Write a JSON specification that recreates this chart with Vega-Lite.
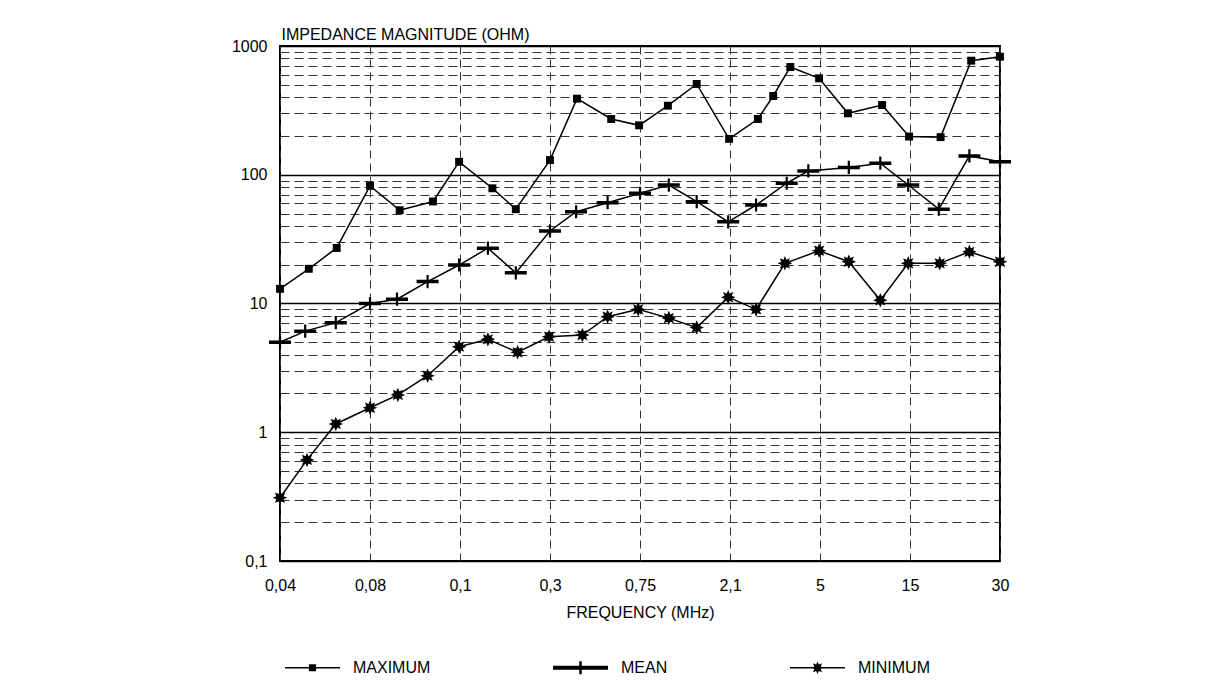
{
  "$schema": "https://vega.github.io/schema/vega-lite/v6.json",
  "width": 720,
  "height": 515,
  "autosize": "none",
  "padding": {"left": 280, "top": 46, "right": 227, "bottom": 125},
  "background": "white",
  "config": {
    "font": "Liberation Sans",
    "view": {"stroke": "black", "strokeWidth": 2}
  },
  "data": {
    "values": [
      {"series": "MAXIMUM", "pos": 0, "impedance": 13},
      {"series": "MAXIMUM", "pos": 0.32, "impedance": 18.6},
      {"series": "MAXIMUM", "pos": 0.63, "impedance": 27},
      {"series": "MAXIMUM", "pos": 1.0, "impedance": 82},
      {"series": "MAXIMUM", "pos": 1.33, "impedance": 53},
      {"series": "MAXIMUM", "pos": 1.7, "impedance": 62},
      {"series": "MAXIMUM", "pos": 1.99, "impedance": 126},
      {"series": "MAXIMUM", "pos": 2.36, "impedance": 78.5},
      {"series": "MAXIMUM", "pos": 2.62, "impedance": 54},
      {"series": "MAXIMUM", "pos": 3.0, "impedance": 130},
      {"series": "MAXIMUM", "pos": 3.3, "impedance": 390},
      {"series": "MAXIMUM", "pos": 3.68, "impedance": 271},
      {"series": "MAXIMUM", "pos": 3.99, "impedance": 242},
      {"series": "MAXIMUM", "pos": 4.31, "impedance": 344},
      {"series": "MAXIMUM", "pos": 4.63, "impedance": 507},
      {"series": "MAXIMUM", "pos": 4.99, "impedance": 190},
      {"series": "MAXIMUM", "pos": 5.31, "impedance": 271},
      {"series": "MAXIMUM", "pos": 5.48, "impedance": 409},
      {"series": "MAXIMUM", "pos": 5.67, "impedance": 687},
      {"series": "MAXIMUM", "pos": 5.99, "impedance": 561},
      {"series": "MAXIMUM", "pos": 6.31, "impedance": 300},
      {"series": "MAXIMUM", "pos": 6.69, "impedance": 348},
      {"series": "MAXIMUM", "pos": 6.99, "impedance": 198},
      {"series": "MAXIMUM", "pos": 7.34, "impedance": 196},
      {"series": "MAXIMUM", "pos": 7.68, "impedance": 769},
      {"series": "MAXIMUM", "pos": 8.0, "impedance": 826},
      {"series": "MEAN", "pos": 0, "impedance": 5.0},
      {"series": "MEAN", "pos": 0.28, "impedance": 6.1},
      {"series": "MEAN", "pos": 0.62, "impedance": 7.1},
      {"series": "MEAN", "pos": 1.0, "impedance": 10.0},
      {"series": "MEAN", "pos": 1.3, "impedance": 10.8},
      {"series": "MEAN", "pos": 1.64, "impedance": 14.8},
      {"series": "MEAN", "pos": 1.99, "impedance": 19.9},
      {"series": "MEAN", "pos": 2.31, "impedance": 26.9},
      {"series": "MEAN", "pos": 2.62, "impedance": 17.3},
      {"series": "MEAN", "pos": 3.0, "impedance": 36.6},
      {"series": "MEAN", "pos": 3.29, "impedance": 51.6},
      {"series": "MEAN", "pos": 3.64, "impedance": 60.7},
      {"series": "MEAN", "pos": 4.0, "impedance": 71.8},
      {"series": "MEAN", "pos": 4.32, "impedance": 83.2},
      {"series": "MEAN", "pos": 4.63, "impedance": 61.8},
      {"series": "MEAN", "pos": 4.98, "impedance": 43.1},
      {"series": "MEAN", "pos": 5.29, "impedance": 58.2},
      {"series": "MEAN", "pos": 5.63, "impedance": 85.9},
      {"series": "MEAN", "pos": 5.87, "impedance": 107},
      {"series": "MEAN", "pos": 6.32, "impedance": 114},
      {"series": "MEAN", "pos": 6.67, "impedance": 123},
      {"series": "MEAN", "pos": 6.98, "impedance": 83.2},
      {"series": "MEAN", "pos": 7.32, "impedance": 54},
      {"series": "MEAN", "pos": 7.66, "impedance": 140},
      {"series": "MEAN", "pos": 8.0, "impedance": 126},
      {"series": "MINIMUM", "pos": 0, "impedance": 0.31},
      {"series": "MINIMUM", "pos": 0.3, "impedance": 0.61},
      {"series": "MINIMUM", "pos": 0.62, "impedance": 1.16},
      {"series": "MINIMUM", "pos": 1.0, "impedance": 1.55},
      {"series": "MINIMUM", "pos": 1.31, "impedance": 1.95},
      {"series": "MINIMUM", "pos": 1.64, "impedance": 2.75},
      {"series": "MINIMUM", "pos": 1.99, "impedance": 4.62},
      {"series": "MINIMUM", "pos": 2.31, "impedance": 5.27},
      {"series": "MINIMUM", "pos": 2.64, "impedance": 4.18},
      {"series": "MINIMUM", "pos": 2.99, "impedance": 5.52},
      {"series": "MINIMUM", "pos": 3.36, "impedance": 5.69},
      {"series": "MINIMUM", "pos": 3.64, "impedance": 7.9},
      {"series": "MINIMUM", "pos": 3.98, "impedance": 9.0},
      {"series": "MINIMUM", "pos": 4.32, "impedance": 7.7},
      {"series": "MINIMUM", "pos": 4.63, "impedance": 6.5},
      {"series": "MINIMUM", "pos": 4.98, "impedance": 11.2},
      {"series": "MINIMUM", "pos": 5.29, "impedance": 9.0},
      {"series": "MINIMUM", "pos": 5.61, "impedance": 20.5},
      {"series": "MINIMUM", "pos": 5.99, "impedance": 25.7},
      {"series": "MINIMUM", "pos": 6.32, "impedance": 21.1},
      {"series": "MINIMUM", "pos": 6.67, "impedance": 10.6},
      {"series": "MINIMUM", "pos": 6.98, "impedance": 20.5},
      {"series": "MINIMUM", "pos": 7.33, "impedance": 20.5},
      {"series": "MINIMUM", "pos": 7.66, "impedance": 25.2},
      {"series": "MINIMUM", "pos": 8.0, "impedance": 21.1}
    ]
  },
  "encoding": {
    "x": {
      "field": "pos",
      "type": "quantitative",
      "scale": {"domain": [0, 8], "nice": false, "zero": false},
      "axis": {
        "title": "FREQUENCY (MHz)",
        "values": [0, 1, 2, 3, 4, 5, 6, 7, 8],
        "labelExpr": "['0,04','0,08','0,1','0,3','0,75','2,1','5','15','30'][round(datum.value)]",
        "grid": true,
        "gridDash": [8, 5],
        "gridColor": "#333333",
        "gridWidth": 1,
        "gridOpacity": 1,
        "domain": false,
        "ticks": false,
        "labelPadding": 16,
        "labelFontSize": 16,
        "labelColor": "black",
        "labelFlush": false,
        "labelOverlap": false,
        "titleFontSize": 16,
        "titleFontWeight": "normal",
        "titleColor": "black",
        "titlePadding": 11
      }
    },
    "y": {
      "field": "impedance",
      "type": "quantitative",
      "scale": {"type": "log", "domain": [0.1, 1000], "nice": false},
      "axis": {
        "title": "IMPEDANCE MAGNITUDE (OHM)",
        "titleAngle": 0,
        "titleAlign": "left",
        "titleBaseline": "alphabetic",
        "titleX": 1,
        "titleY": -7,
        "titleFontSize": 16,
        "titleFontWeight": "normal",
        "titleColor": "black",
        "values": [0.1, 0.2, 0.3, 0.4, 0.5, 0.6, 0.7, 0.8, 0.9, 1, 2, 3, 4, 5, 6, 7, 8, 9, 10, 20, 30, 40, 50, 60, 70, 80, 90, 100, 200, 300, 400, 500, 600, 700, 800, 900, 1000],
        "labelExpr": "datum.value == 0.1 ? '0,1' : datum.value == 1 ? '1' : datum.value == 10 ? '10' : datum.value == 100 ? '100' : datum.value == 1000 ? '1000' : ''",
        "grid": true,
        "gridDash": {"condition": {"test": "indexof([0.1, 1, 10, 100, 1000], datum.value) >= 0", "value": []}, "value": [9, 5]},
        "gridColor": {"condition": {"test": "indexof([0.1, 1, 10, 100, 1000], datum.value) >= 0", "value": "black"}, "value": "#333333"},
        "gridWidth": {"condition": {"test": "indexof([0.1, 1, 10, 100, 1000], datum.value) >= 0", "value": 1.5}, "value": 1},
        "gridOpacity": 1,
        "domain": false,
        "ticks": false,
        "labelPadding": 13,
        "labelFontSize": 16,
        "labelColor": "black",
        "labelFlush": false,
        "labelOverlap": false
      }
    }
  },
  "layer": [
    {
      "mark": {"type": "line", "color": "black", "strokeWidth": 1.5},
      "encoding": {"detail": {"field": "series", "type": "nominal"}}
    },
    {
      "mark": {"type": "point", "filled": true, "color": "black", "opacity": 1, "size": 484, "strokeWidth": 0},
      "encoding": {
        "shape": {
          "field": "series",
          "type": "nominal",
          "scale": {
            "domain": ["MAXIMUM", "MEAN", "MINIMUM"],
            "range": [
              "M-0.36,-0.36H0.36V0.36H-0.36Z",
              "M-1,-0.16H1V0.16H-1ZM-0.1,-0.6H0.1V0.6H-0.1Z",
              "M0,-0.66L0.138,-0.333L0.467,-0.467L0.333,-0.138L0.66,0L0.333,0.138L0.467,0.467L0.138,0.333L0,0.66L-0.138,0.333L-0.467,0.467L-0.333,0.138L-0.66,0L-0.333,-0.138L-0.467,-0.467L-0.138,-0.333Z"
            ]
          },
          "legend": null
        }
      }
    },
    {
      "transform": [{"filter": "false"}],
      "mark": {"type": "point", "filled": true, "color": "black", "opacity": 1, "size": 3025, "strokeWidth": 0},
      "encoding": {
        "shape": {
          "field": "series",
          "type": "nominal",
          "scale": {
            "domain": ["MAXIMUM", "MEAN", "MINIMUM"],
            "range": [
              "M-1,-0.025H1V0.025H-1ZM-0.13,-0.13H0.13V0.13H-0.13Z",
              "M-1,-0.07H1V0.07H-1ZM-0.045,-0.24H0.045V0.24H-0.045Z",
              "M-1,-0.025H1V0.025H-1ZM0,-0.23L0.048,-0.116L0.163,-0.163L0.116,-0.048L0.23,0L0.116,0.048L0.163,0.163L0.048,0.116L0,0.23L-0.048,0.116L-0.163,0.163L-0.116,0.048L-0.23,0L-0.116,-0.048L-0.163,-0.163L-0.048,-0.116Z"
            ]
          },
          "legend": {
            "title": null,
            "orient": "none",
            "legendX": 5,
            "legendY": 594,
            "direction": "horizontal",
            "padding": 0,
            "symbolSize": 3025,
            "symbolFillColor": "black",
            "symbolStrokeWidth": 0,
            "symbolOpacity": 1,
            "labelFontSize": 16,
            "labelColor": "black",
            "labelOffset": 13,
            "columnPadding": 122
          }
        }
      }
    }
  ],
  "resolve": {"scale": {"shape": "independent"}, "legend": {"shape": "independent"}}
}
